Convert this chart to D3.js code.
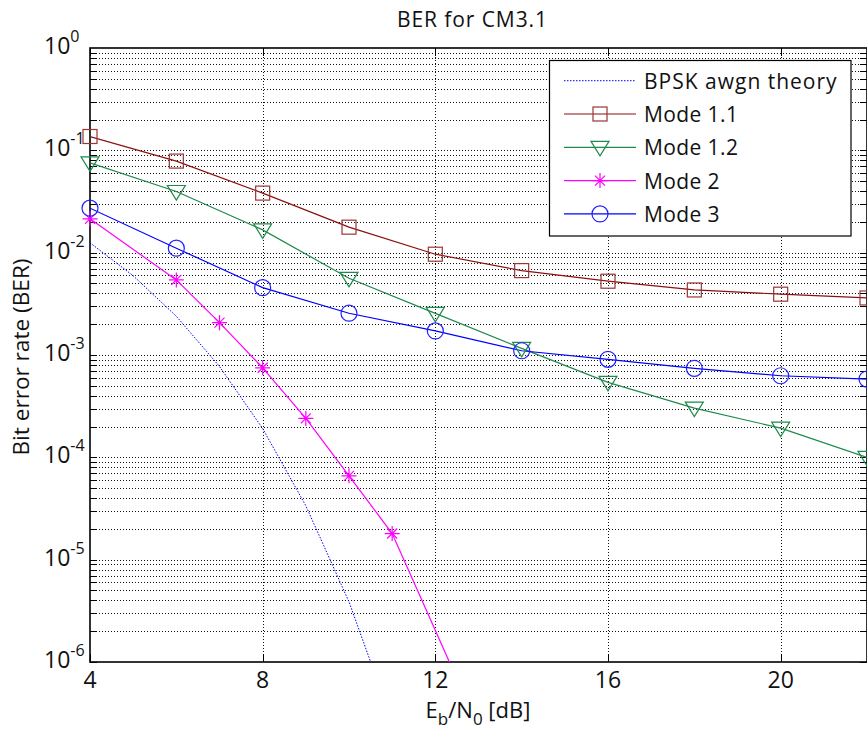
<!DOCTYPE html>
<html>
<head>
<meta charset="utf-8">
<script src="https://cdn.jsdelivr.net/npm/d3@7"></script>
<style>
  html, body { margin: 0; padding: 0; background: #fff; }
  svg { display: block; font-family: "Open Sans", "Noto Sans", sans-serif; }
</style>
</head>
<body>
<svg id="chart" width="867" height="731"></svg>
<script>
// ---------- data ----------
const titleText = "BER for CM3.1";
const xTicks = [4, 8, 12, 16, 20];
const yTickExps = [0, -1, -2, -3, -4, -5, -6];

const ebn0 = [4, 6, 8, 10, 12, 14, 16, 18, 20, 22];
const mode11 = [0.1365, 0.0785, 0.0382, 0.01775, 0.00966, 0.00668, 0.00526, 0.00432, 0.00393, 0.00361];
const mode12 = [0.0755, 0.0396, 0.0167, 0.00562, 0.00255, 0.00116, 0.00054, 0.000303, 0.000193, 0.0001];
const mode3  = [0.0272, 0.01106, 0.00455, 0.00256, 0.00172, 0.0011, 0.000907, 0.000741, 0.000627, 0.000582];
const mode2X = [4, 6, 7, 8, 9, 10, 11, 13];
const mode2  = [0.0214, 0.00542, 0.00207, 0.00075, 0.00024, 0.000066, 0.000018, 0.00000023];
const bpskX  = [4, 5, 6, 7, 8, 9, 10, 11];
const bpsk   = [0.0125, 0.00595, 0.00239, 0.000773, 0.000191, 0.0000336, 0.00000387, 0.000000261];

const legendLabels = ["BPSK awgn theory", "Mode 1.1", "Mode 1.2", "Mode 2", "Mode 3"];

// ---------- layout ----------
const svg = d3.select("#chart");
svg.append("rect").attr("width", 867).attr("height", 731).attr("fill", "#fff");

const L = 90, R = 867, T = 48, B = 662;
const x = d3.scaleLinear().domain([4, 22]).range([L, R]);
const y = d3.scaleLog().domain([1e-6, 1]).range([B, T]);

const series = [
  { name: legendLabels[0], xs: bpskX, ys: bpsk, color: "#0000ff", dash: "1.5,1.5", marker: null, width: 1 },
  { name: legendLabels[1], xs: ebn0, ys: mode11, color: "#8b0f0f", dash: null, marker: "square", width: 1.2, mcolor: "#9a3535" },
  { name: legendLabels[2], xs: ebn0, ys: mode12, color: "#1f8a4c", dash: null, marker: "tri", width: 1.2, mcolor: "#1f8a4c" },
  { name: legendLabels[3], xs: mode2X, ys: mode2, color: "#ff00ff", dash: null, marker: "star", width: 1.2, mcolor: "#ff00ff" },
  { name: legendLabels[4], xs: ebn0, ys: mode3, color: "#0000ff", dash: null, marker: "circle", width: 1.2, mcolor: "#2020ff" }
];

// ---------- grid ----------
const grid = svg.append("g");
const minorVals = [];
for (let e = -6; e < 0; e++) for (let k = 1; k <= 9; k++) minorVals.push(k * Math.pow(10, e));
minorVals.forEach(v => {
  if (v <= 1e-6 || v >= 1) return;
  const yy = Math.round(y(v)) + 0.5;
  grid.append("line").attr("x1", L).attr("x2", R).attr("y1", yy).attr("y2", yy)
    .attr("stroke", "#111").attr("stroke-width", 1).attr("stroke-dasharray", "1,2");
});
xTicks.forEach(t => {
  if (t === 4) return;
  const xx = Math.round(x(t)) + 0.5;
  grid.append("line").attr("x1", xx).attr("x2", xx).attr("y1", T).attr("y2", B)
    .attr("stroke", "#111").attr("stroke-width", 1).attr("stroke-dasharray", "1,2");
});

// ---------- ticks ----------
const ticks = svg.append("g").attr("stroke", "#000").attr("stroke-width", 1);
minorVals.forEach(v => {
  const yy = Math.round(y(v)) + 0.5;
  ticks.append("line").attr("x1", L).attr("x2", L + 7).attr("y1", yy).attr("y2", yy);
  ticks.append("line").attr("x1", R - 7).attr("x2", R).attr("y1", yy).attr("y2", yy);
});
xTicks.forEach(t => {
  const xx = Math.round(x(t)) + 0.5;
  ticks.append("line").attr("x1", xx).attr("x2", xx).attr("y1", B).attr("y2", B - 8);
  ticks.append("line").attr("x1", xx).attr("x2", xx).attr("y1", T).attr("y2", T + 8);
});

// ---------- axes box ----------
svg.append("rect").attr("x", L).attr("y", T).attr("width", R - L).attr("height", B - T)
  .attr("fill", "none").attr("stroke", "#000").attr("stroke-width", 1.6);

// ---------- data lines ----------
svg.append("clipPath").attr("id", "clip").append("rect")
  .attr("x", L).attr("y", T).attr("width", R - L).attr("height", B - T);
const plot = svg.append("g").attr("clip-path", "url(#clip)");
const lineGen = d3.line().x(d => x(d[0])).y(d => y(d[1]));

function drawMarker(g, type, cx, cy, color) {
  if (type === "square") {
    g.append("rect").attr("x", cx - 7).attr("y", cy - 7).attr("width", 14).attr("height", 14)
      .attr("fill", "none").attr("stroke", color).attr("stroke-width", 1.2);
  } else if (type === "tri") {
    g.append("path").attr("d", `M${cx - 9},${cy - 6}L${cx + 9},${cy - 6}L${cx},${cy + 8.5}Z`)
      .attr("fill", "none").attr("stroke", color).attr("stroke-width", 1.2);
  } else if (type === "circle") {
    g.append("circle").attr("cx", cx).attr("cy", cy).attr("r", 8)
      .attr("fill", "none").attr("stroke", color).attr("stroke-width", 1.2);
  } else if (type === "star") {
    const a = 7.5, b = 5;
    g.append("path").attr("d",
      `M${cx - a},${cy}L${cx + a},${cy}M${cx},${cy - a}L${cx},${cy + a}` +
      `M${cx - b},${cy - b}L${cx + b},${cy + b}M${cx - b},${cy + b}L${cx + b},${cy - b}`)
      .attr("fill", "none").attr("stroke", color).attr("stroke-width", 1.2);
  }
}

const markG = svg.append("g");
series.forEach(s => {
  const pts = s.xs.map((v, i) => [v, s.ys[i]]);
  const p = plot.append("path").datum(pts).attr("d", lineGen)
    .attr("fill", "none").attr("stroke", s.color).attr("stroke-width", s.width);
  if (s.dash) p.attr("stroke-dasharray", s.dash);
  if (s.marker) {
    pts.forEach(d => {
      if (d[1] < 1e-6 || d[1] > 1) return;
      drawMarker(markG, s.marker, x(d[0]), y(d[1]), s.mcolor);
    });
  }
});

// ---------- tick labels ----------
const lab = svg.append("g").attr("fill", "#111");
yTickExps.forEach(e => {
  const yy = y(Math.pow(10, e));
  const t = lab.append("text").attr("x", 44).attr("y", yy + 6).attr("font-size", 23);
  t.append("tspan").text("10");
  t.append("tspan").attr("font-size", 16).attr("dy", -12).text(String(e));
});
xTicks.forEach(tk => {
  lab.append("text").attr("x", x(tk)).attr("y", 688).attr("text-anchor", "middle")
    .attr("font-size", 23).text(String(tk));
});

// ---------- titles ----------
svg.append("text").attr("x", 472).attr("y", 27).attr("text-anchor", "middle")
  .attr("font-size", 21).attr("fill", "#111")
  .attr("textLength", 150).attr("lengthAdjust", "spacing").text(titleText);

const xl = svg.append("text").attr("x", 478).attr("y", 718).attr("text-anchor", "middle")
  .attr("font-size", 22).attr("fill", "#111");
xl.append("tspan").text("E");
xl.append("tspan").attr("font-size", 17).attr("dy", 7).text("b");
xl.append("tspan").attr("dy", -7).text("/N");
xl.append("tspan").attr("font-size", 17).attr("dy", 7).text("0");
xl.append("tspan").attr("dy", -7).text(" [dB]");

svg.append("text").attr("transform", "translate(29,357) rotate(-90)")
  .attr("text-anchor", "middle").attr("font-size", 22).attr("fill", "#111")
  .attr("textLength", 197).attr("lengthAdjust", "spacingAndGlyphs").text("Bit error rate (BER)");

// ---------- legend ----------
const lg = svg.append("g");
lg.append("rect").attr("x", 549.5).attr("y", 60.5).attr("width", 301.5).attr("height", 175.5)
  .attr("fill", "#fff").attr("stroke", "#000").attr("stroke-width", 1.2);
series.forEach((s, i) => {
  const cy = 80.7 + i * 33.3;
  const ln = lg.append("line").attr("x1", 564).attr("x2", 636).attr("y1", cy).attr("y2", cy)
    .attr("stroke", s.color).attr("stroke-width", s.width);
  if (s.dash) ln.attr("stroke-dasharray", s.dash);
  if (s.marker) drawMarker(lg, s.marker, 600, cy, s.mcolor);
  const t = lg.append("text").attr("x", 644).attr("y", cy + 8).attr("font-size", 21)
    .attr("letter-spacing", 0.4).attr("fill", "#111").text(s.name);
  if (i === 0) t.attr("textLength", 193).attr("lengthAdjust", "spacing");
});
</script>
</body>
</html>
